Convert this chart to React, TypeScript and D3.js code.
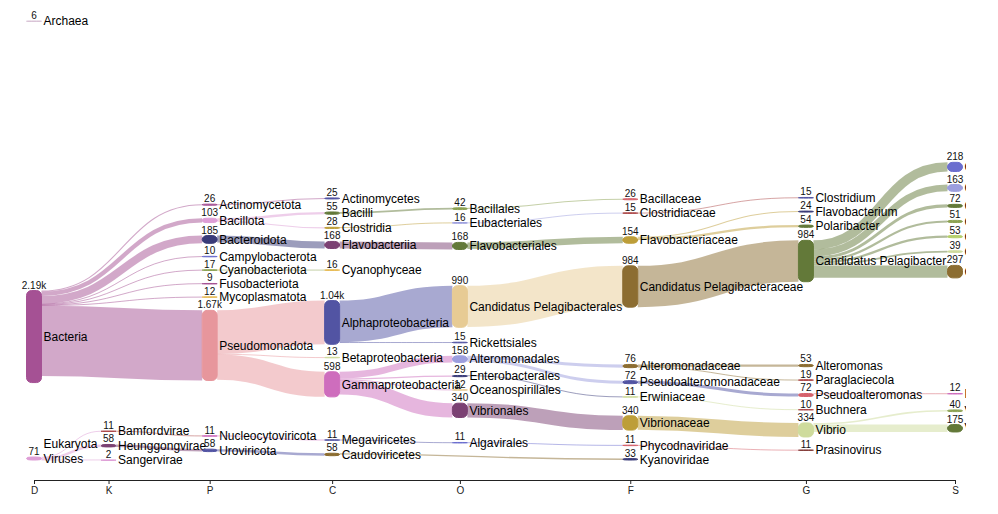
import React, { useEffect, useMemo, useRef } from 'react';
import * as d3 from 'd3';

// taxonomic ranks shown on the axis
const ranks = ['D', 'K', 'P', 'C', 'O', 'F', 'G', 'S'];
// all reads of the sample, used to scale node heights
const totalReads = 10450;

// [name, reads, parent]
const domains: [string, number, string?][] = [
  ['Archaea', 6], ['Bacteria', 2190], ['Eukaryota', 0], ['Viruses', 71],
];
const kingdoms: [string, number, string][] = [
  ['Bamfordvirae', 11, 'Viruses'], ['Heunggongvirae', 58, 'Viruses'], ['Sangervirae', 2, 'Viruses'],
];
const phyla: [string, number, string][] = [
  ['Actinomycetota', 26, 'Bacteria'], ['Bacillota', 103, 'Bacteria'], ['Bacteroidota', 185, 'Bacteria'],
  ['Campylobacterota', 10, 'Bacteria'], ['Cyanobacteriota', 17, 'Bacteria'], ['Fusobacteriota', 9, 'Bacteria'],
  ['Mycoplasmatota', 12, 'Bacteria'], ['Pseudomonadota', 1670, 'Bacteria'],
  ['Nucleocytoviricota', 11, 'Bamfordvirae'], ['Uroviricota', 58, 'Heunggongvirae'],
];
const classes: [string, number, string][] = [
  ['Actinomycetes', 25, 'Actinomycetota'], ['Bacilli', 55, 'Bacillota'], ['Clostridia', 28, 'Bacillota'],
  ['Flavobacteriia', 168, 'Bacteroidota'], ['Cyanophyceae', 16, 'Cyanobacteriota'],
  ['Alphaproteobacteria', 1040, 'Pseudomonadota'], ['Betaproteobacteria', 13, 'Pseudomonadota'],
  ['Gammaproteobacteria', 598, 'Pseudomonadota'], ['Megaviricetes', 11, 'Nucleocytoviricota'],
  ['Caudoviricetes', 58, 'Uroviricota'],
];
const orders: [string, number, string][] = [
  ['Bacillales', 42, 'Bacilli'], ['Eubacteriales', 16, 'Clostridia'], ['Flavobacteriales', 168, 'Flavobacteriia'],
  ['Candidatus Pelagibacterales', 990, 'Alphaproteobacteria'], ['Rickettsiales', 15, 'Alphaproteobacteria'],
  ['Alteromonadales', 158, 'Gammaproteobacteria'], ['Enterobacterales', 29, 'Gammaproteobacteria'],
  ['Oceanospirillales', 12, 'Gammaproteobacteria'], ['Vibrionales', 340, 'Gammaproteobacteria'],
  ['Algavirales', 11, 'Megaviricetes'],
];
const families: [string, number, string][] = [
  ['Bacillaceae', 26, 'Bacillales'], ['Clostridiaceae', 15, 'Eubacteriales'], ['Flavobacteriaceae', 154, 'Flavobacteriales'],
  ['Candidatus Pelagibacteraceae', 984, 'Candidatus Pelagibacterales'], ['Alteromonadaceae', 76, 'Alteromonadales'],
  ['Pseudoalteromonadaceae', 72, 'Alteromonadales'], ['Erwiniaceae', 11, 'Enterobacterales'],
  ['Vibrionaceae', 340, 'Vibrionales'], ['Phycodnaviridae', 11, 'Algavirales'], ['Kyanoviridae', 33, 'Caudoviricetes'],
];
const genera: [string, number, string][] = [
  ['Clostridium', 15, 'Clostridiaceae'], ['Flavobacterium', 24, 'Flavobacteriaceae'], ['Polaribacter', 54, 'Flavobacteriaceae'],
  ['Candidatus Pelagibacter', 984, 'Candidatus Pelagibacteraceae'], ['Alteromonas', 53, 'Alteromonadaceae'],
  ['Paraglaciecola', 19, 'Alteromonadaceae'], ['Pseudoalteromonas', 72, 'Pseudoalteromonadaceae'],
  ['Buchnera', 10, 'Erwiniaceae'], ['Vibrio', 334, 'Vibrionaceae'], ['Prasinovirus', 11, 'Phycodnaviridae'],
];
const species: [string, number, string][] = [
  ['Candidatus Pelagibacter sp. FZCC0015', 218, 'Candidatus Pelagibacter'],
  ['Candidatus Pelagibacter sp. HIMB1321', 163, 'Candidatus Pelagibacter'],
  ['Candidatus Pelagibacter sp. HTCC7211', 72, 'Candidatus Pelagibacter'],
  ['Candidatus Pelagibacter sp. IMCC9063', 51, 'Candidatus Pelagibacter'],
  ['Candidatus Pelagibacter sp. RS39', 53, 'Candidatus Pelagibacter'],
  ['Candidatus Pelagibacter sp. RS40', 39, 'Candidatus Pelagibacter'],
  ['Candidatus Pelagibacter ubique', 297, 'Candidatus Pelagibacter'],
  ['Pseudoalteromonas sp.', 12, 'Pseudoalteromonas'],
  ['Vibrio campbellii', 40, 'Vibrio'], ['Vibrio harveyi', 175, 'Vibrio'],
];

const nodeColors: Record<string, string> = {
  Archaea: '#d9c3d6', Bacteria: '#a55194', Eukaryota: '#cccccc', Viruses: '#de9ed6',
  Bamfordvirae: '#ad494a', Heunggongvirae: '#7b4173', Sangervirae: '#de9ed6',
  Actinomycetota: '#a55194', Bacillota: '#de9ed6', Bacteroidota: '#393b79', Campylobacterota: '#6b6ecf',
  Cyanobacteriota: '#8ca252', Fusobacteriota: '#a55194', Mycoplasmatota: '#e7ba52', Pseudomonadota: '#e7969c',
  Nucleocytoviricota: '#ce6dbd', Uroviricota: '#5254a3',
  Actinomycetes: '#5254a3', Bacilli: '#637939', Clostridia: '#bd9e39', Flavobacteriia: '#7b4173',
  Cyanophyceae: '#e7ba52', Alphaproteobacteria: '#5254a3', Betaproteobacteria: '#cedb9c',
  Gammaproteobacteria: '#ce6dbd', Megaviricetes: '#5254a3', Caudoviricetes: '#8c6d31',
  Bacillales: '#8ca252', Eubacteriales: '#9c9ede', Flavobacteriales: '#637939',
  'Candidatus Pelagibacterales': '#e7cb94', Rickettsiales: '#5254a3', Alteromonadales: '#9c9ede',
  Enterobacterales: '#393b79', Oceanospirillales: '#e7cb94', Vibrionales: '#7b4173', Algavirales: '#6b6ecf',
  Bacillaceae: '#d6616b', Clostridiaceae: '#ad494a', Flavobacteriaceae: '#bd9e39',
  'Candidatus Pelagibacteraceae': '#8c6d31', Alteromonadaceae: '#8c6d31', Pseudoalteromonadaceae: '#5254a3',
  Erwiniaceae: '#cedb9c', Vibrionaceae: '#bd9e39', Phycodnaviridae: '#d6616b', Kyanoviridae: '#393b79',
  Clostridium: '#5254a3', Flavobacterium: '#393b79', Polaribacter: '#637939', 'Candidatus Pelagibacter': '#637939',
  Alteromonas: '#8c6d31', Paraglaciecola: '#ad494a', Pseudoalteromonas: '#d6616b', Buchnera: '#ad494a',
  Vibrio: '#cedb9c', Prasinovirus: '#843c39',
  'Candidatus Pelagibacter sp. FZCC0015': '#6b6ecf', 'Candidatus Pelagibacter sp. HIMB1321': '#9c9ede',
  'Candidatus Pelagibacter sp. HTCC7211': '#637939', 'Candidatus Pelagibacter sp. IMCC9063': '#8ca252',
  'Candidatus Pelagibacter sp. RS39': '#b5cf6b', 'Candidatus Pelagibacter sp. RS40': '#cedb9c',
  'Candidatus Pelagibacter ubique': '#8c6d31', 'Pseudoalteromonas sp.': '#ce6dbd',
  'Vibrio campbellii': '#8ca252', 'Vibrio harveyi': '#637939',
};

interface SNode {
  name: string; value: number; layer: number; parent?: string;
  x: number; y0: number; y1: number;
  sourceLinks: SLink[]; targetLinks: SLink[];
}
interface SLink { source: SNode; target: SNode; value: number; width: number; y0: number; y1: number; }

const width = 958;
const height = 498;
const top = 13;
const bottom = 452;
const nodeWidth = 15;
const py = 13;
const iterations = 5;

function buildLayout() {
  const levels = [domains, kingdoms, phyla, classes, orders, families, genera, species];
  const byName = new Map<string, SNode>();
  const columns: SNode[][] = levels.map((lvl, layer) => lvl.map(([name, value, parent]) => {
    const n: SNode = { name, value, layer, parent, x: 0, y0: 0, y1: 0, sourceLinks: [], targetLinks: [] };
    byName.set(name, n);
    return n;
  }));
  const nodes = columns.flat();
  const links: SLink[] = [];
  const ky = d3.scaleLinear().domain([0, totalReads]).range([0, bottom - top]);
  nodes.forEach(n => {
    if (!n.parent) return;
    const s = byName.get(n.parent)!;
    const l: SLink = { source: s, target: n, value: n.value, width: ky(n.value), y0: 0, y1: 0 };
    s.sourceLinks.push(l);
    n.targetLinks.push(l);
    links.push(l);
  });

  // column spacing follows the longest label of each rank
  const colWeight = columns.map(c => d3.max(c, n => n.name.length)! + 5);
  const colPos = [0];
  for (let i = 1; i < columns.length; i++) colPos.push(colPos[i - 1] + colWeight[i - 1]);
  const x = d3.scaleLinear().domain([0, colPos[colPos.length - 1]]).range([26, 947]);
  nodes.forEach(n => { n.x = x(colPos[n.layer]); });

  // initial breadths: first node at the top, the others packed at the bottom
  for (const col of columns) {
    let y = bottom;
    for (let i = col.length - 1; i >= 1; --i) {
      const n = col[i];
      n.y1 = y; n.y0 = y - ky(n.value); y = n.y0 - py;
    }
    col[0].y0 = top; col[0].y1 = top + ky(col[0].value);
  }

  // offset of a link inside the stack of its source
  const slotOut = (s: SNode, t: SNode) => {
    let y = 0;
    for (const l of s.sourceLinks) { if (l.target === t) break; y += l.width; }
    return y;
  };
  const topToBottom = (col: SNode[], y: number, i: number) => {
    for (; i < col.length; ++i) {
      const n = col[i];
      const dy = y - n.y0;
      if (dy > 1e-6) { n.y0 += dy; n.y1 += dy; }
      y = n.y1 + py;
    }
  };
  const bottomToTop = (col: SNode[], y: number, i: number) => {
    for (; i >= 0; --i) {
      const n = col[i];
      const dy = n.y1 - y;
      if (dy > 1e-6) { n.y0 -= dy; n.y1 -= dy; }
      y = n.y0 - py;
    }
  };
  // the heaviest node holds, the others give way: first among siblings, then in the column
  const spread = (nodesIn: SNode[]) => {
    const i = d3.maxIndex(nodesIn, n => n.value);
    bottomToTop(nodesIn, nodesIn[i].y0 - py, i - 1);
    topToBottom(nodesIn, nodesIn[i].y1 + py, i + 1);
  };
  const resolve = (col: SNode[]) => {
    let start = 0;
    while (start < col.length) {
      let end = start;
      while (end + 1 < col.length && col[end + 1].parent === col[start].parent) end++;
      if (end > start) spread(col.slice(start, end + 1));
      start = end + 1;
    }
    spread(col);
    bottomToTop(col, bottom, col.length - 1);
    topToBottom(col, top, 0);
  };
  // move a node to where its links, parent and children alike, would run flat;
  // roots only go half way
  const relax = (col: SNode[]) => {
    for (const n of col) {
      let y = 0, w = 0;
      for (const l of n.targetLinks) { y += (l.source.y0 + slotOut(l.source, n)) * l.value; w += l.value; }
      for (const l of n.sourceLinks) { y += (l.target.y0 - slotOut(n, l.target)) * l.value; w += l.value; }
      if (!(w > 0)) continue;
      const dy = (y / w - n.y0) * (n.targetLinks.length ? 1 : 0.5);
      n.y0 += dy; n.y1 += dy;
    }
    resolve(col);
  };

  for (let it = 0; it < iterations; it++) {
    for (let i = columns.length - 1; i >= 0; --i) relax(columns[i]);
    for (let i = 0; i < columns.length; ++i) relax(columns[i]);
  }

  nodes.forEach(n => {
    let y = n.y0;
    for (const l of n.sourceLinks) { l.y0 = y + l.width / 2; y += l.width; }
    y = n.y0;
    for (const l of n.targetLinks) { l.y1 = y + l.width / 2; y += l.width; }
  });

  return { nodes, links, x, colPos };
}

const fmt = d3.format('.3~s');
const font = 'Arial, "Liberation Sans", Helvetica, sans-serif';

const App: React.FC = () => {
  const axisRef = useRef<SVGGElement>(null);
  const { nodes, links, x, colPos } = useMemo(buildLayout, []);

  useEffect(() => {
    if (!axisRef.current) return;
    const g = d3.select(axisRef.current);
    g.selectAll('*').remove();
    g.call(
      d3.axisBottom(x)
        .tickValues(colPos)
        .tickFormat((_d, i) => ranks[i])
        .tickSize(4)
        .tickSizeOuter(4)
    );
    g.selectAll('text').style('font-family', font).style('font-size', '10px').attr('fill', '#222');
    g.selectAll('path, line').attr('stroke', '#222');
  }, [x, colPos]);

  const linkPath = d3.linkHorizontal<SLink, [number, number]>()
    .source(l => [l.source.x + nodeWidth / 2, l.y0])
    .target(l => [l.target.x - nodeWidth / 2, l.y1]);

  return (
    <svg width={width} height={height} style={{ display: 'block', fontFamily: font }}>
      <g fill="none">
        {links.map((l, i) => (
          <path key={i} d={linkPath(l) ?? ''} stroke={nodeColors[l.source.name]}
            strokeOpacity={0.5} strokeWidth={Math.max(1, l.width)} />
        ))}
      </g>
      {nodes.map(n => {
        const h = n.y1 - n.y0;
        const cy = (n.y0 + n.y1) / 2;
        const c = nodeColors[n.name];
        return (
          <g key={n.name}>
            {n.value > 0 && (
              <rect x={n.x - nodeWidth / 2} y={n.y0} width={nodeWidth} height={Math.max(h, 0.5)}
                rx={5} fill={c} stroke={c} strokeWidth={1} />
            )}
            {n.value > 0 && (
              <text x={n.x} y={n.y0 - 2} textAnchor="middle" fontSize={10} fill="#111">{fmt(n.value)}</text>
            )}
            <text x={n.x + nodeWidth / 2 + 2} y={cy} dy="0.35em" fontSize={12} fill="#000">{n.name}</text>
          </g>
        );
      })}
      <g ref={axisRef} transform={`translate(0,${bottom + 20})`} />
    </svg>
  );
};

export default App;
